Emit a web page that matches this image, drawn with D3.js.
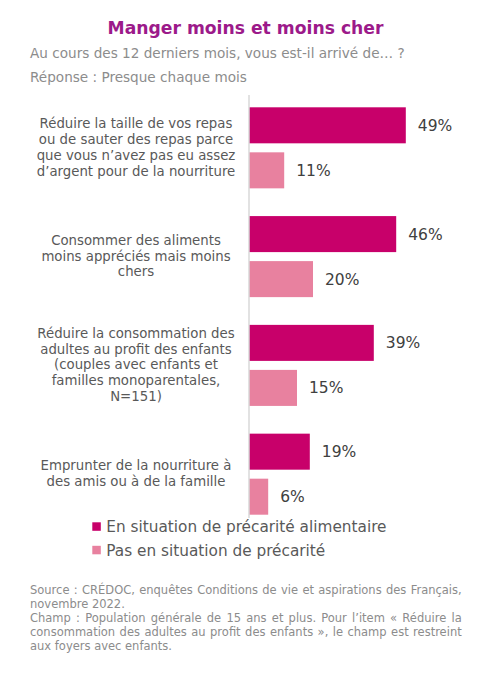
<!DOCTYPE html>
<html lang="fr">
<head>
    <meta charset="UTF-8">
    <title>Manger moins et moins cher</title>
    <script src="https://d3js.org/d3.v7.min.js"></script>
    <style>
        body { margin: 0; padding: 0; background: #fff; }
        svg { display: block; font-family: "DejaVu Sans", Verdana, sans-serif; }
    </style>
</head>
<body>
<div id="chart"></div>
<script>
    // Categories (label lines) and series values
    const categories = [
        ["Réduire la taille de vos repas", "ou de sauter des repas parce", "que vous n’avez pas eu assez", "d’argent pour de la nourriture"],
        ["Consommer des aliments", "moins appréciés mais moins", "chers"],
        ["Réduire la consommation des", "adultes au profit des enfants", "(couples avec enfants et", "familles monoparentales,", "N=151)"],
        ["Emprunter de la nourriture à", "des amis ou à de la famille"]
    ];
    const seriesNames = ["En situation de précarité alimentaire", "Pas en situation de précarité"];
    const precaires = [49, 46, 39, 19];
    const nonPrecaires = [11, 20, 15, 6];

    const footerLines = [
        { text: "Source : CRÉDOC, enquêtes Conditions de vie et aspirations des Français,", justify: true },
        { text: "novembre 2022.", justify: false },
        { text: "Champ : Population générale de 15 ans et plus. Pour l’item « Réduire la", justify: true },
        { text: "consommation des adultes au profit des enfants », le champ est restreint", justify: true },
        { text: "aux foyers avec enfants.", justify: false }
    ];

    const width = 495, height = 680;
    const colors = ["#c8006a", "#e8819f"];

    const svg = d3.select("#chart").append("svg")
        .attr("width", width)
        .attr("height", height);

    // Title and subtitles
    svg.append("text")
        .attr("x", 245.5).attr("y", 34)
        .attr("text-anchor", "middle")
        .attr("font-size", 17.2).attr("font-weight", "bold")
        .attr("fill", "#9c1a8a")
        .text("Manger moins et moins cher");

    svg.append("text")
        .attr("x", 30).attr("y", 58)
        .attr("font-size", 13.6).attr("fill", "#8c8c8c")
        .text("Au cours des 12 derniers mois, vous est-il arrivé de… ?");

    svg.append("text")
        .attr("x", 30).attr("y", 81.5)
        .attr("font-size", 13.6).attr("fill", "#8c8c8c")
        .text("Réponse : Presque chaque mois");

    // Scales
    const x = d3.scaleLinear().domain([0, 50]).range([249, 409]);
    const y = d3.scaleBand()
        .domain(d3.range(categories.length))
        .range([107.3, 514.7])
        .paddingInner(0.255);
    const ySub = d3.scaleBand()
        .domain([0, 1])
        .range([0, y.bandwidth()])
        .paddingInner(0.2);

    const rows = categories.map((lines, i) => ({
        lines: lines,
        values: [precaires[i], nonPrecaires[i]]
    }));

    const groups = svg.append("g").selectAll("g")
        .data(rows)
        .join("g")
        .attr("transform", (d, i) => `translate(0,${y(i)})`);

    groups.selectAll("rect")
        .data(d => d.values)
        .join("rect")
        .attr("x", x(0))
        .attr("y", (d, j) => ySub(j))
        .attr("width", d => x(d) - x(0))
        .attr("height", ySub.bandwidth())
        .attr("fill", (d, j) => colors[j]);

    groups.selectAll("text.value")
        .data(d => d.values)
        .join("text")
        .attr("class", "value")
        .attr("x", d => x(d) + 12)
        .attr("y", (d, j) => ySub(j) + ySub.bandwidth() / 2)
        .attr("dy", "0.36em")
        .attr("font-size", 15.5)
        .attr("fill", "#404040")
        .text(d => d + "%");

    // Category labels, centred and wrapped
    const lineH = 15.8;
    groups.append("text")
        .attr("text-anchor", "middle")
        .attr("font-size", 13.3)
        .attr("fill", "#595959")
        .each(function (d) {
            const t = d3.select(this);
            const n = d.lines.length;
            const mid = y.bandwidth() / 2 + 4;
            d.lines.forEach((line, k) => {
                t.append("tspan")
                    .attr("x", 136)
                    .attr("y", mid + (k - (n - 1) / 2) * lineH)
                    .text(line);
            });
        });

    // Axis line
    svg.append("line")
        .attr("x1", x(0)).attr("x2", x(0))
        .attr("y1", 95).attr("y2", 518)
        .attr("stroke", "#d9d9d9")
        .attr("stroke-width", 1.5);

    // Legend
    const legend = svg.append("g").selectAll("g")
        .data(seriesNames)
        .join("g")
        .attr("transform", (d, i) => `translate(92.3,${532 + i * 23.5})`);

    legend.append("rect")
        .attr("x", 0).attr("y", -9.7)
        .attr("width", 8.5).attr("height", 8.5)
        .attr("fill", (d, i) => colors[i]);

    legend.append("text")
        .attr("x", 14).attr("y", 0)
        .attr("font-size", 15.3)
        .attr("fill", "#595959")
        .text(d => d);

    // Footer notes (justified where the source is justified)
    const left = 30, right = 461.7;
    svg.append("g").selectAll("text")
        .data(footerLines)
        .join("text")
        .attr("x", left)
        .attr("y", (d, i) => 594 + i * 14)
        .attr("font-size", 11.5)
        .attr("fill", "#8c8c8c")
        .text(d => d.text)
        .each(function (d) {
            if (!d.justify) return;
            const natural = this.getComputedTextLength();
            const spaces = d.text.split(" ").length - 1;
            const extra = (right - left - natural) / spaces;
            d3.select(this).attr("word-spacing", extra);
        });
</script>
</body>
</html>
